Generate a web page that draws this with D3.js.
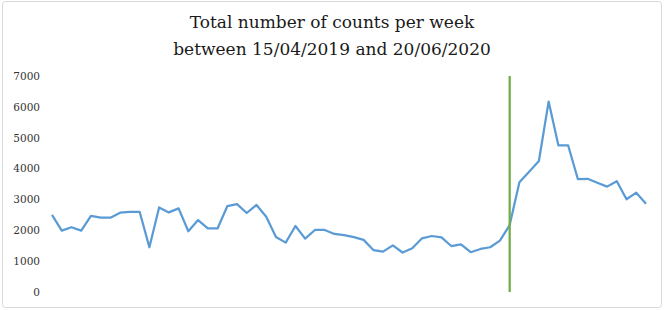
<!DOCTYPE html>
<html>
<head>
<meta charset="utf-8">
<script src="https://cdn.jsdelivr.net/npm/d3@7"></script>
<style>
  html, body { margin: 0; padding: 0; background: #fff; }
  #chart { width: 664px; height: 310px; }
  .chart-title { font-family: "DejaVu Serif", serif; font-size: 17px; fill: #1a1a1a; }
  .y-axis text { font-family: "DejaVu Serif", serif; font-size: 10.5px; fill: #333; }
</style>
</head>
<body>
<div id="chart"></div>
<script>
/* global d3 */

const TITLE_LINES = ["Total number of counts per week", "between 15/04/2019 and 20/06/2020"];
const Y_TICKS = [0, 1000, 2000, 3000, 4000, 5000, 6000, 7000];
const COUNTS = [
  2500, 1990, 2100, 1990, 2470, 2410, 2410, 2570, 2600, 2600,
  1450, 2740, 2580, 2710, 1970, 2330, 2060, 2060, 2780, 2850,
  2560, 2820, 2440, 1780, 1600, 2140, 1730, 2010, 2010, 1880,
  1840, 1780, 1690, 1360, 1310, 1510, 1280, 1420, 1740, 1815,
  1770, 1490, 1545, 1290, 1395, 1450, 1665, 2170, 3560, 3900,
  4245, 6170, 4755, 4755, 3660, 3670, 3540, 3415, 3590, 3005,
  3220, 2860,
];
const MARKER_WEEK = 47;

const COLORS = { line: "#5b9bd5", marker: "#70ad47", border: "#d9d9d9" };

const width = 664;
const height = 310;

const svg = d3.select("#chart")
  .append("svg")
  .attr("width", width)
  .attr("height", height);

svg.append("rect")
  .attr("x", 2.5).attr("y", 1.5)
  .attr("width", 659).attr("height", 306)
  .attr("rx", 3)
  .attr("fill", "#fff")
  .attr("stroke", COLORS.border);

const title = svg.append("text")
  .attr("class", "chart-title")
  .attr("text-anchor", "middle");
TITLE_LINES.forEach((line, i) => {
  title.append("tspan").attr("x", 332).attr("y", 28 + i * 27).text(line);
});

const x = d3.scalePoint()
  .domain(d3.range(COUNTS.length))
  .range([52, 646]);

const y = d3.scaleLinear().domain([0, 7000]).range([292, 76]);

svg.append("g")
  .attr("class", "axis y-axis")
  .attr("transform", "translate(40,0)")
  .call(d3.axisLeft(y).tickValues(Y_TICKS).tickSize(0).tickPadding(0).tickFormat(d3.format("d")))
  .call((axis) => axis.select(".domain").remove());

svg.append("path")
  .datum(COUNTS)
  .attr("fill", "none")
  .attr("stroke", COLORS.line)
  .attr("stroke-width", 2.25)
  .attr("stroke-linejoin", "round")
  .attr("d", d3.line().x((d, i) => x(i)).y((d) => y(d)));

svg.append("line")
  .attr("x1", x(MARKER_WEEK)).attr("x2", x(MARKER_WEEK))
  .attr("y1", y(0)).attr("y2", y(7000))
  .attr("stroke", COLORS.marker)
  .attr("stroke-width", 2.25);
</script>
</body>
</html>
